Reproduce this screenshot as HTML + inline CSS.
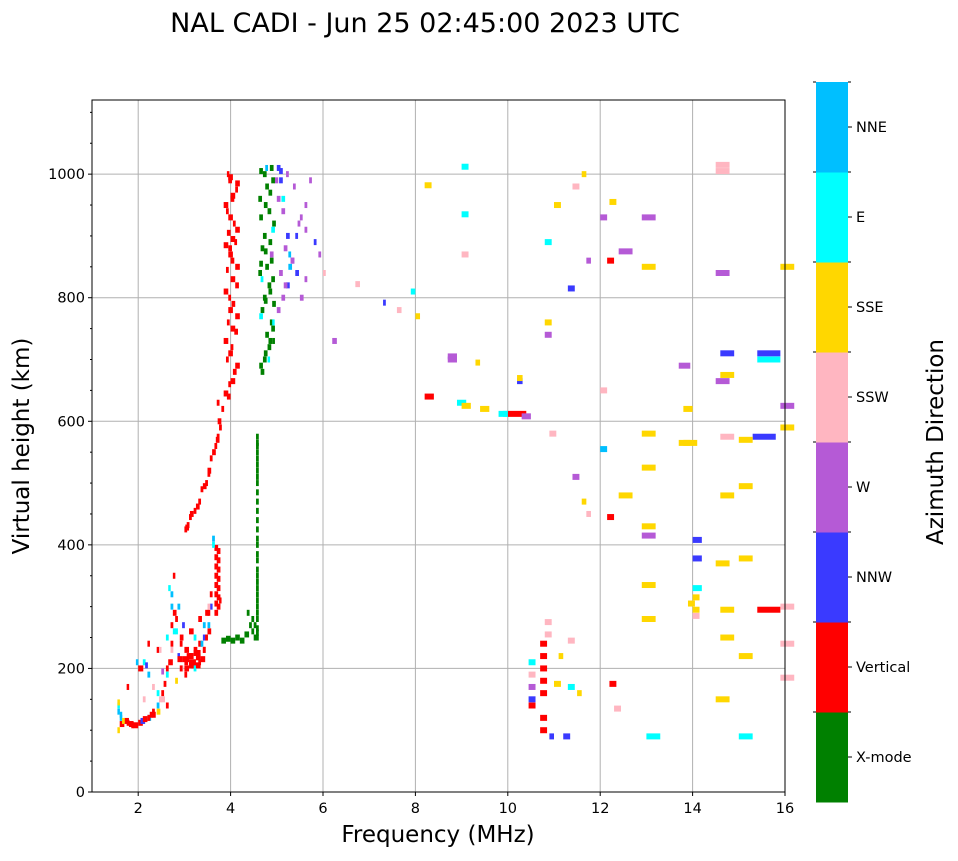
<!DOCTYPE html>
<html><head><meta charset="utf-8"><style>
body{margin:0;background:#fff;font-family:"DejaVu Sans","Liberation Sans",sans-serif}
svg text{font-family:"DejaVu Sans","Liberation Sans",sans-serif}
</style></head><body>
<svg id="chart" width="958" height="857" viewBox="0 0 958 857" xmlns="http://www.w3.org/2000/svg">
<text x="425" y="32" font-size="27" text-anchor="middle">NAL CADI - Jun 25 02:45:00 2023 UTC</text>
<g id="grid"></g>
<g id="marks"></g>
<rect x="92" y="100" width="693" height="692" fill="none" stroke="#000" stroke-width="1"/>
<g id="axes"></g>
<text x="438" y="842" font-size="23" text-anchor="middle">Frequency (MHz)</text>
<text transform="translate(29,446) rotate(-90)" font-size="23" text-anchor="middle">Virtual height (km)</text>
<g id="cbar"></g>
<text transform="translate(943,442) rotate(-90)" font-size="23" text-anchor="middle">Azimuth Direction</text>
</svg>
<script>
const dirNames=["X-mode","Vertical","NNW","W","SSW","SSE","E","NNE"];
const dirColors=["#008000","#ff0000","#3a3aff","#b55ad6","#ffb6c1","#ffd700","#00ffff","#00bfff"];
const xTicks=[2,4,6,8,10,12,14,16];
const yTicks=[0,200,400,600,800,1000];
// data points: frequency (MHz), virtual height (km), direction index, width (MHz)
const freq=[3.92,3.95,4.05,3.9,4.0,4.08,3.92,4.02,3.95,4.1,3.9,4.0,3.95,4.08,3.92,4.05,3.9,4.0,4.1,3.95,3.92,
3.0,3.05,3.1,3.2,3.3,3.35,3.45,3.5,3.55,3.65,3.7,3.75,3.8,3.7,
3.65,3.65,3.65,3.65,3.65,3.65,3.65,3.65,3.6,3.6,
2.95,3.05,3.1,3.2,3.15,3.0,2.9,3.25,
4.55,4.55,4.55,4.55,4.55,4.55,4.55,4.55,4.55,4.55,4.55,4.55,4.55,4.55,4.55,4.55,4.5,4.5,4.45,4.45,4.4,4.35,
3.8,3.9,4.0,4.1,4.2,4.3,
4.65,4.7,4.8,4.75,4.85,4.65,4.9,4.7,4.8,4.6,4.75,4.85,4.65,4.7,4.9,4.8,4.6,4.75,4.7,4.85,4.65,
4.8,4.9,4.85,4.95,4.75,4.9,
5.0,5.1,5.2,5.05,5.3,5.15,5.4,5.5,5.6,5.7,5.0,5.2,5.35,5.1,5.45,5.05,5.25,5.6,5.8,5.9,6.0,
1.55,1.55,1.6,1.7,1.8,1.9,2.0,2.05,2.1,2.2,2.3,2.4,2.5,2.6,2.7,2.75,2.8,2.85,2.9,3.0,3.1,3.2,3.3,3.4,3.5,
2.0,2.1,2.2,2.3,2.4,2.5,2.6,2.7,2.7,2.8,2.9,3.0,3.2,3.3,3.4,3.5,2.65,2.75,2.85,3.35,3.45,2.1,2.4,2.6,
1.55,1.6,1.75,1.95,2.2,2.45,3.5,3.55,3.75,
8.2,8.7,8.9,9.4,9.8,10.0,10.3,10.2,9.0,9.0,9.0,8.2,8.0,7.9,7.6,7.3,6.7,6.2,9.0,9.3,9.9,10.2,8.7,
12.15,12.15,12.2,15.4,15.4,15.4,15.3,14.0,14.0,14.0,14.0,13.9,14.0,14.0,
10.7,10.7,10.7,10.7,10.7,10.45,10.45,10.45,10.45,10.45,10.7,10.7,10.9,11.2,11.0,11.3,11.5,
10.8,10.8,10.9,11.1,11.3,11.4,11.6,11.7,12.0,12.0,12.0,12.3,12.9,12.9,12.9,12.9,12.9,12.9,12.9,12.9,
13.7,13.8,14.5,14.5,14.6,14.6,14.6,14.6,14.5,15.0,15.0,15.0,15.0,15.9,15.9,15.9,15.9,15.9,15.9,
14.5,14.5,14.6,14.6,11.4,11.6,11.7,11.3,11.0,10.8,10.8,10.8,13.0,12.4,12.4,12.2,15.0,13.7,13.8,14.5,
3.85,4.0,4.1,3.95,3.85,4.0,4.1,3.95,3.85,4.0,4.1,3.95,3.85,4.0,4.1,3.95,3.85,4.0,4.1,3.95,
3.02,3.12,3.25,3.4,3.5,3.6,3.68,3.72,
3.7,3.7,3.7,3.7,3.7,3.7,3.7,
4.55,4.55,4.55,4.55,4.55,4.55,4.55,4.55,4.55,4.55,4.55,4.55,4.55,4.55,
4.62,4.72,4.82,4.88,4.62,4.72,4.82,4.88,4.62,4.72,4.82,4.88,4.62,4.72,4.82,4.88,4.62,
2.7,2.75,2.8,2.9,2.95,3.1,3.2,3.3,3.4,3.45,3.5,3.55,2.65,2.7,2.85,3.0,3.1,3.25,3.35,3.4,2.3,2.4,2.5,2.55,2.6,2.45,2.2,2.25,1.75,1.85,1.65,1.6,1.55,2.05,2.15,
5.0,5.1,5.2,5.3,5.4,5.5,5.15,5.05,5.25,5.6];
const height=[640,660,680,700,720,745,760,790,800,820,845,860,880,890,905,920,940,960,975,990,1000,
425,432,445,455,470,490,500,515,540,560,575,590,620,630,
290,305,320,335,350,365,380,395,400,410,
215,220,210,225,205,230,240,218,
250,265,280,300,320,340,360,385,410,440,470,500,520,540,560,575,250,270,280,260,270,290,
245,248,245,250,245,255,
680,700,720,740,760,780,790,800,820,840,850,860,880,900,920,940,960,980,1000,1010,830,
700,760,870,990,1010,730,
780,800,820,840,860,880,900,930,950,990,1010,1000,980,960,920,990,850,830,890,870,840,
100,130,110,115,110,108,112,115,118,120,125,130,150,200,240,260,280,300,200,210,220,230,240,250,260,
200,210,190,170,230,195,250,270,300,180,200,190,200,210,230,270,330,350,220,240,250,150,160,140,
140,120,170,210,240,230,290,300,310,
640,700,630,620,612,612,608,665,1012,935,870,982,770,810,780,792,822,730,625,695,612,670,705,
860,445,175,295,710,700,575,408,378,330,315,305,295,285,
240,220,200,180,160,210,190,170,150,140,120,100,90,90,175,170,160,
275,255,580,220,245,510,470,450,930,650,555,135,930,850,580,525,430,415,335,280,
565,620,665,370,575,480,295,250,150,570,495,378,220,590,850,625,185,240,300,
1015,1005,710,675,980,1000,860,815,950,890,760,740,90,480,875,955,90,690,565,840,
645,665,690,710,730,750,770,780,810,830,850,870,885,895,910,930,950,965,985,995,
428,450,462,495,520,550,570,600,
300,315,330,345,360,375,390,
258,290,310,330,350,375,400,425,455,485,510,530,550,565,
690,710,730,750,770,795,810,830,855,875,890,910,930,950,970,990,1005,
320,290,260,250,270,260,250,280,270,290,300,320,210,230,215,200,205,205,215,230,130,140,160,175,190,150,120,125,112,108,115,125,145,200,205,
960,940,900,860,840,800,820,1005,870,910];
const dir=[1,1,1,1,1,1,1,1,1,1,1,1,1,1,1,1,1,1,1,1,1,
1,1,1,1,1,1,1,1,1,1,1,1,1,1,
1,1,1,1,1,1,1,1,6,7,
1,1,1,1,1,1,1,1,
0,0,0,0,0,0,0,0,0,0,0,0,0,0,0,0,0,0,0,0,0,0,
0,0,0,0,0,0,
0,0,0,0,0,0,0,0,0,0,0,0,0,0,0,0,0,0,0,0,6,
6,6,3,3,7,0,
3,3,2,3,3,3,2,3,3,3,2,3,3,6,3,2,7,3,2,3,4,
5,7,1,1,1,1,1,2,1,7,1,5,4,1,1,6,1,7,4,1,1,1,1,2,1,
1,6,7,4,1,3,6,1,7,5,1,1,6,1,1,7,6,1,2,7,1,4,6,1,
6,7,1,7,1,4,1,2,1,
1,3,6,5,6,1,3,2,6,6,4,5,5,6,4,2,4,3,5,5,6,5,3,
1,1,1,1,2,6,2,2,2,6,5,5,5,4,
1,1,1,1,1,6,4,3,2,1,1,1,2,2,5,6,5,
4,4,4,5,4,3,5,4,3,4,7,4,3,5,5,5,5,3,5,5,
5,5,3,5,4,5,5,5,5,5,5,5,5,5,5,3,4,4,4,
4,4,2,5,4,5,3,2,5,6,5,3,6,5,3,5,6,3,5,3,
1,1,1,1,1,1,1,1,1,1,1,1,1,1,1,1,1,1,1,1,
1,1,1,1,1,1,1,1,
1,1,1,1,1,1,1,
0,0,0,0,0,0,0,0,0,0,0,0,0,0,
0,0,0,0,6,0,0,0,0,0,0,6,0,0,0,0,0,
7,1,6,1,2,1,6,1,7,1,4,1,1,4,1,1,1,1,1,1,1,7,1,1,6,4,1,1,1,1,5,7,5,1,2,
3,3,2,3,2,3,3,2,7,3];
const width=[0.08,0.06,0.08,0.06,0.06,0.08,0.06,0.08,0.06,0.08,0.06,0.08,0.08,0.06,0.08,0.06,0.06,0.08,0.06,0.08,0.04,
0.06,0.06,0.06,0.06,0.06,0.06,0.06,0.06,0.06,0.06,0.06,0.06,0.06,0.06,
0.08,0.08,0.08,0.08,0.08,0.08,0.08,0.08,0.06,0.06,
0.15,0.15,0.15,0.15,0.1,0.1,0.06,0.1,
0.06,0.06,0.06,0.06,0.06,0.06,0.06,0.06,0.06,0.06,0.06,0.06,0.06,0.06,0.06,0.06,0.06,0.06,0.06,0.06,0.06,0.06,
0.1,0.1,0.1,0.1,0.1,0.1,
0.08,0.08,0.08,0.08,0.08,0.08,0.08,0.08,0.08,0.08,0.08,0.08,0.08,0.08,0.08,0.08,0.08,0.08,0.08,0.08,0.06,
0.04,0.04,0.08,0.08,0.06,0.06,
0.08,0.08,0.08,0.08,0.08,0.08,0.06,0.06,0.06,0.06,0.08,0.06,0.06,0.08,0.06,0.08,0.08,0.06,0.06,0.06,0.06,
0.04,0.04,0.1,0.1,0.1,0.1,0.1,0.1,0.1,0.08,0.08,0.08,0.08,0.06,0.06,0.06,0.06,0.06,0.08,0.08,0.08,0.08,0.08,0.08,0.08,
0.06,0.06,0.06,0.06,0.06,0.06,0.06,0.06,0.06,0.06,0.06,0.06,0.06,0.06,0.06,0.06,0.04,0.04,0.04,0.06,0.06,0.06,0.06,0.06,
0.04,0.04,0.04,0.04,0.04,0.04,0.06,0.06,0.04,
0.2,0.2,0.2,0.2,0.2,0.4,0.2,0.12,0.15,0.15,0.15,0.15,0.1,0.1,0.1,0.06,0.1,0.1,0.2,0.1,0.1,0.12,0.2,
0.15,0.15,0.15,0.5,0.5,0.5,0.5,0.2,0.2,0.2,0.15,0.15,0.15,0.15,
0.15,0.15,0.15,0.15,0.15,0.15,0.15,0.15,0.15,0.15,0.15,0.15,0.1,0.15,0.15,0.15,0.1,
0.15,0.15,0.15,0.1,0.15,0.15,0.1,0.1,0.15,0.15,0.15,0.15,0.3,0.3,0.3,0.3,0.3,0.3,0.3,0.3,
0.25,0.2,0.3,0.3,0.3,0.3,0.3,0.3,0.3,0.3,0.3,0.3,0.3,0.3,0.3,0.3,0.3,0.3,0.3,
0.3,0.3,0.3,0.3,0.15,0.1,0.1,0.15,0.15,0.15,0.15,0.15,0.3,0.3,0.3,0.15,0.3,0.25,0.3,0.3,
0.1,0.1,0.1,0.1,0.1,0.1,0.1,0.1,0.1,0.1,0.1,0.1,0.1,0.1,0.1,0.1,0.1,0.1,0.1,0.1,
0.08,0.08,0.08,0.08,0.08,0.08,0.08,0.08,
0.08,0.08,0.08,0.08,0.08,0.08,0.08,
0.06,0.06,0.06,0.06,0.06,0.06,0.06,0.06,0.06,0.06,0.06,0.06,0.06,0.06,
0.08,0.08,0.08,0.08,0.08,0.08,0.08,0.08,0.08,0.08,0.08,0.08,0.08,0.08,0.08,0.08,0.08,
0.06,0.08,0.06,0.08,0.06,0.1,0.06,0.08,0.06,0.08,0.06,0.06,0.1,0.06,0.1,0.1,0.1,0.1,0.1,0.06,0.06,0.06,0.06,0.06,0.06,0.06,0.06,0.06,0.06,0.06,0.06,0.04,0.04,0.06,0.06,
0.08,0.08,0.08,0.08,0.08,0.08,0.08,0.08,0.06,0.06];

const NS="http://www.w3.org/2000/svg";
const X0=92,X1=785,Y0=792,Y1=100,FMIN=1,FMAX=16,HMIN=0,HMAX=1120;
const xs=f=>X0+(f-FMIN)/(FMAX-FMIN)*(X1-X0);
const ys=h=>Y0-(h-HMIN)/(HMAX-HMIN)*(Y0-Y1);
function mk(tag,attrs,parent){const e=document.createElementNS(NS,tag);for(const k in attrs)e.setAttribute(k,attrs[k]);parent.appendChild(e);return e;}
const grid=document.getElementById('grid'),axes=document.getElementById('axes'),marks=document.getElementById('marks'),cbar=document.getElementById('cbar');
xTicks.forEach(t=>{
  const gl=mk('line',{x1:xs(t),x2:xs(t),y1:Y1,y2:Y0,stroke:'#b0b0b0','stroke-width':1},grid);
  
  
  mk('line',{x1:xs(t),x2:xs(t),y1:Y0,y2:Y0+4,stroke:'#000'},axes);
  const tl=mk('text',{x:xs(t),y:Y0+21,'font-size':14.5,'text-anchor':'middle'},axes);
  tl.textContent=t;
  
  
});
yTicks.forEach(t=>{
  const gl=mk('line',{x1:X0,x2:X1,y1:ys(t),y2:ys(t),stroke:'#b0b0b0','stroke-width':1},grid);
  
  
  mk('line',{x1:X0-4,x2:X0,y1:ys(t),y2:ys(t),stroke:'#000'},axes);
  const tl=mk('text',{x:X0-7,y:ys(t)+5,'font-size':14.5,'text-anchor':'end'},axes);
  tl.textContent=t;
  
  
});
for(let h=50;h<1120;h+=50){if(h%200)mk('line',{x1:X0-2,x2:X0,y1:ys(h),y2:ys(h),stroke:'#000'},axes);}
for(let i=0;i<freq.length;i++){
  const w=Math.max(2.5,(xs(freq[i]+width[i])-xs(freq[i])));
  const r=mk('rect',{x:xs(freq[i]),y:ys(height[i])-3,width:w,height:6,fill:dirColors[dir[i]]},marks);
  
  
}
const CX=816,CW=32,CT=82,CB=802,seg=(CB-CT)/dirNames.length;
dirNames.forEach((n,i)=>{
  const y=CB-(i+1)*seg;
  const r=mk('rect',{x:CX,y:y,width:CW,height:seg+0.5,fill:dirColors[i]},cbar);
  
  
  mk('line',{x1:CX+CW,x2:CX+CW+4,y1:y+seg/2,y2:y+seg/2,stroke:'#000'},cbar);
  mk('line',{x1:CX-3,x2:CX,y1:y,y2:y,stroke:'#000'},cbar);
  mk('line',{x1:CX+CW,x2:CX+CW+3,y1:y,y2:y,stroke:'#000'},cbar);
  const t=mk('text',{x:CX+CW+8,y:y+seg/2+5,'font-size':14.5},cbar);
  t.textContent=n;
  
  
});
</script>
</body></html>
